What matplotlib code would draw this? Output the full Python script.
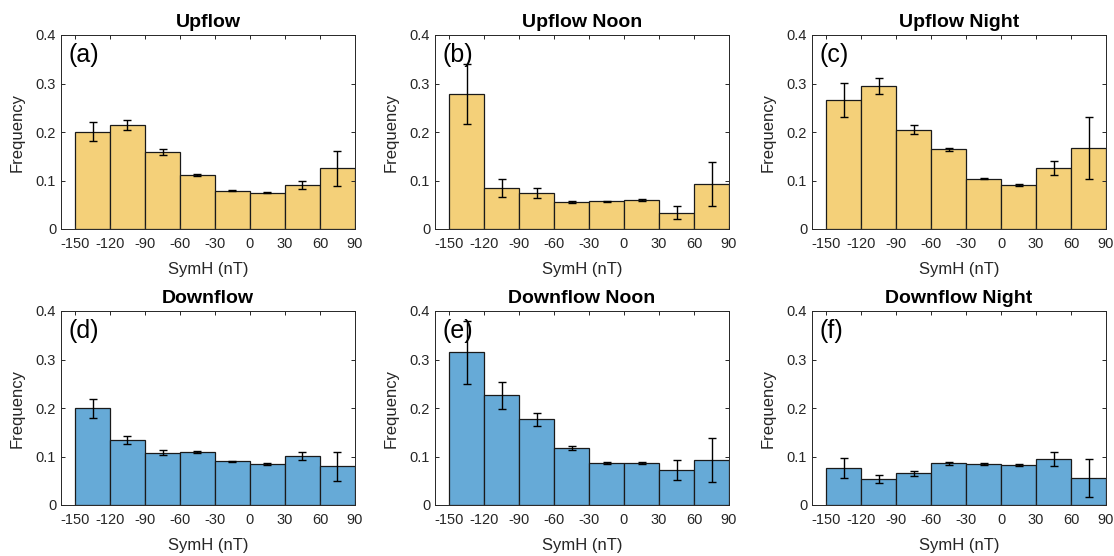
import numpy as np
import matplotlib.pyplot as plt

plt.rcParams['font.family'] = ['Liberation Sans', 'DejaVu Sans']

edges = np.arange(-150, 91, 30)
xticks = [-150, -120, -90, -60, -30, 0, 30, 60, 90]

titles = ['Upflow', 'Upflow Noon', 'Upflow Night',
          'Downflow', 'Downflow Noon', 'Downflow Night']
tags = ['(a)', '(b)', '(c)', '(d)', '(e)', '(f)']

up_all = [0.201, 0.214, 0.159, 0.111, 0.079, 0.075, 0.090, 0.125]
up_all_err = [0.020, 0.010, 0.0055, 0.002, 0.001, 0.0015, 0.008, 0.036]
up_noon = [0.278, 0.084, 0.074, 0.0555, 0.0575, 0.060, 0.034, 0.093]
up_noon_err = [0.062, 0.0185, 0.0096, 0.002, 0.001, 0.0015, 0.014, 0.045]
up_night = [0.266, 0.295, 0.205, 0.164, 0.104, 0.091, 0.125, 0.167]
up_night_err = [0.035, 0.016, 0.0085, 0.0035, 0.001, 0.0015, 0.0145, 0.063]

down_all = [0.199, 0.134, 0.1075, 0.109, 0.090, 0.085, 0.101, 0.0795]
down_all_err = [0.019, 0.008, 0.005, 0.002, 0.001, 0.0015, 0.009, 0.0295]
down_noon = [0.315, 0.226, 0.177, 0.118, 0.087, 0.086, 0.073, 0.093]
down_noon_err = [0.065, 0.028, 0.0137, 0.004, 0.0015, 0.002, 0.0205, 0.045]
down_night = [0.077, 0.054, 0.065, 0.0856, 0.085, 0.083, 0.095, 0.0555]
down_night_err = [0.0205, 0.008, 0.006, 0.003, 0.0015, 0.002, 0.0137, 0.039]

values = [up_all, up_noon, up_night, down_all, down_noon, down_night]
errors = [up_all_err, up_noon_err, up_night_err,
          down_all_err, down_noon_err, down_night_err]

yellow = '#F4D079'
blue = '#66AAD7'

fig = plt.figure(figsize=(11.14, 5.56), dpi=100)
W, H = 1114, 556
lefts = [61, 435, 812]
tops = [35, 311]
aw, ah = 294, 194

for i in range(6):
    row, col = divmod(i, 3)
    ax = fig.add_axes([lefts[col] / W, 1 - (tops[row] + ah) / H, aw / W, ah / H])
    color = yellow if row == 0 else blue
    ax.bar(edges[:-1], values[i], width=30, align='edge', color=color,
           edgecolor='#1a1a1a', linewidth=0.9)
    centers = edges[:-1] + 15
    ax.errorbar(centers, values[i], yerr=errors[i], fmt='none', ecolor='black',
                elinewidth=1.0, capsize=3.2, capthick=1.0)
    ax.set_xlim(-162, 90)
    ax.set_ylim(0, 0.4)
    ax.set_xticks(xticks)
    ax.set_xticklabels([str(t) for t in xticks])
    ax.set_yticks([0, 0.1, 0.2, 0.3, 0.4])
    ax.set_yticklabels(['0', '0.1', '0.2', '0.3', '0.4'])
    ax.tick_params(direction='in', top=True, right=True, labelsize=10.5,
                   length=3, width=0.7, colors='#262626', labelcolor='#262626')
    ax.tick_params(axis='x', pad=6)
    for s in ax.spines.values():
        s.set_color('#262626')
        s.set_linewidth(0.7)
    ax.set_title(titles[i], fontsize=14, fontweight='bold', pad=6)
    ax.set_xlabel('SymH (nT)', fontsize=12, color='#262626', labelpad=8)
    ax.set_ylabel('Frequency', fontsize=12, color='#262626', labelpad=8)
    ax.text(0.025, 0.96, tags[i], transform=ax.transAxes, fontsize=18,
            va='top', ha='left')

fig.savefig('out.png', dpi=100)
